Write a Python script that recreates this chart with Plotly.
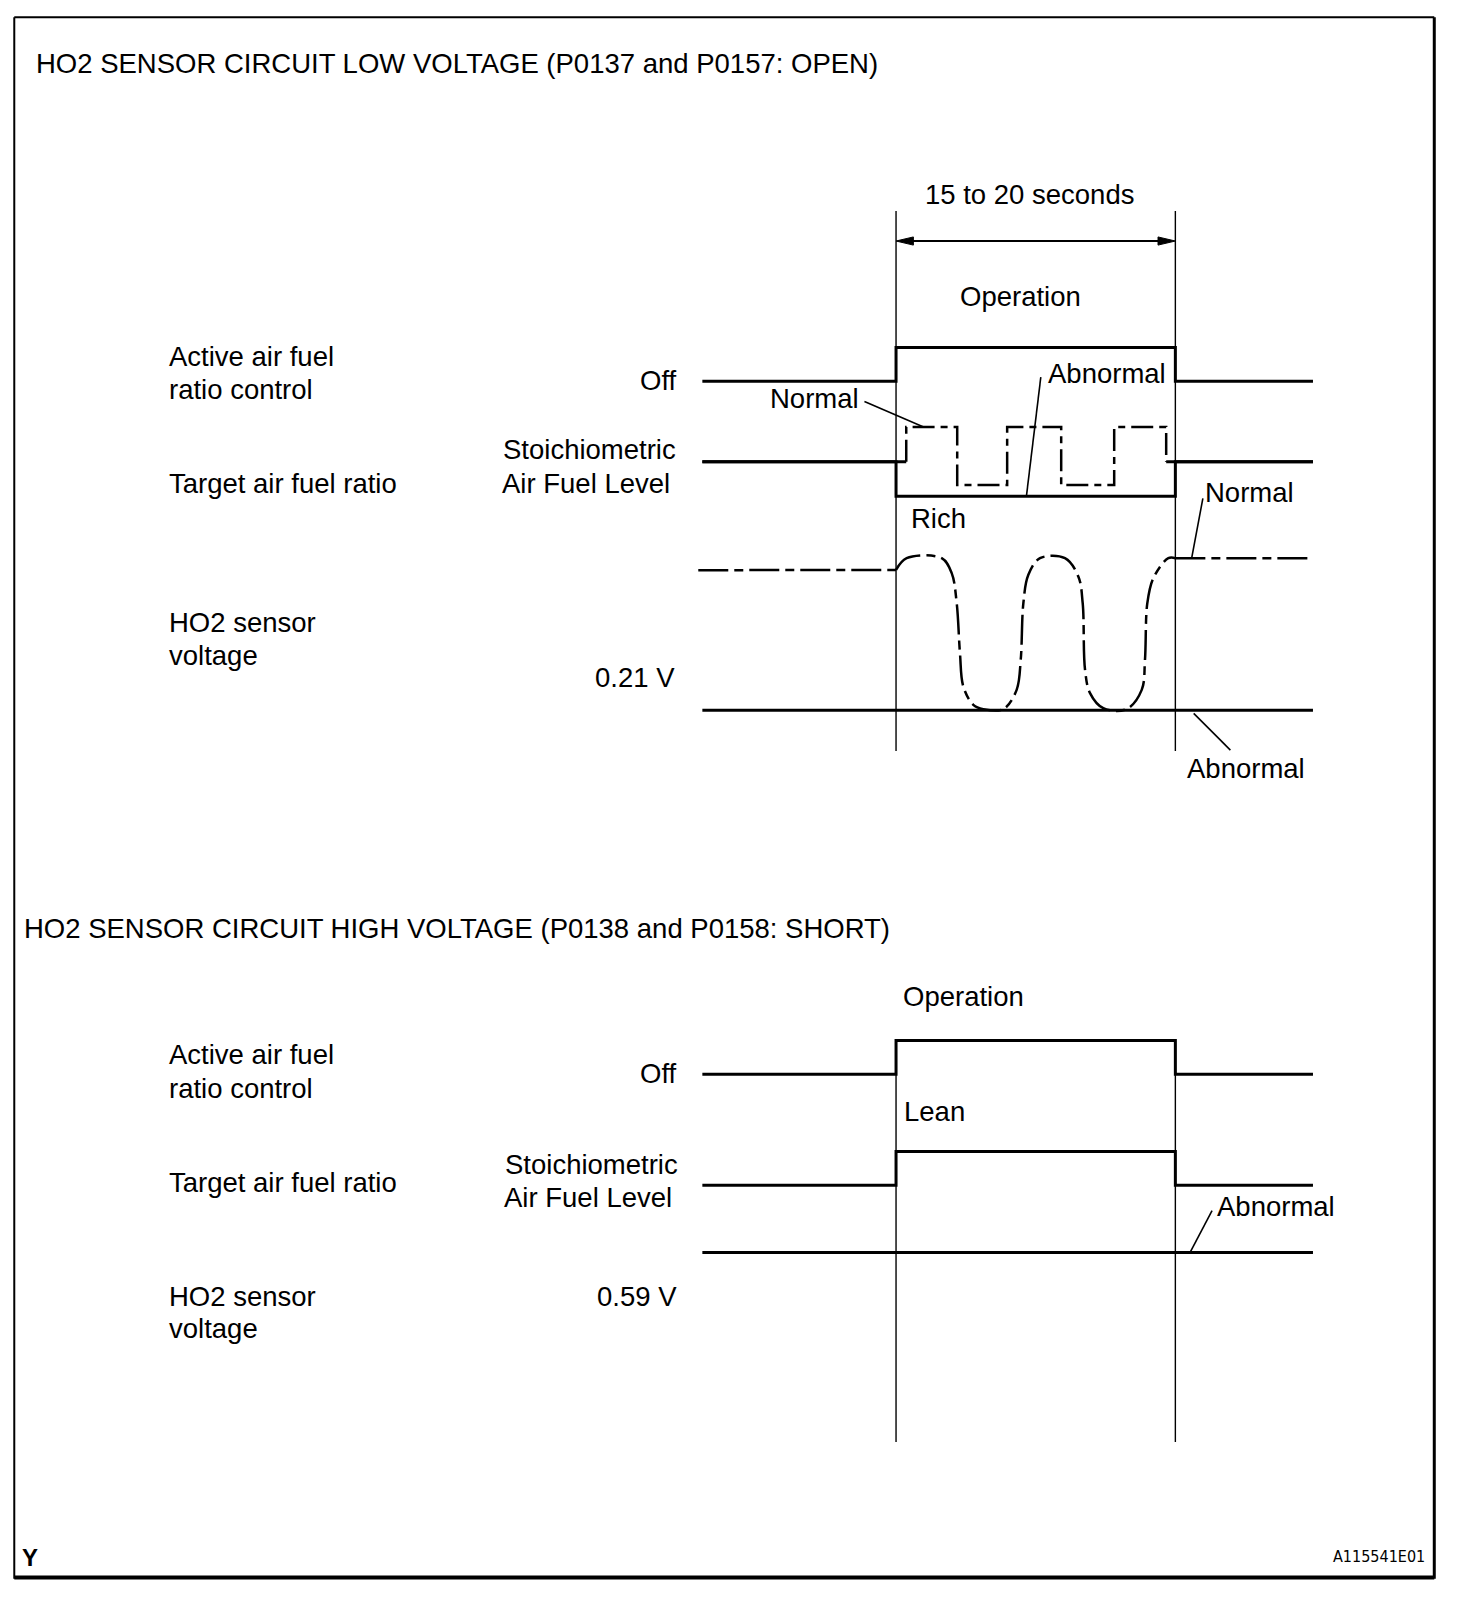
import plotly.graph_objects as go

# ---------------- data (diagram units: time along x, signal level along y) ----------------
# Top panel: HO2 SENSOR CIRCUIT LOW VOLTAGE (open)
T_STEP = [689, 879, 879, 1153, 1153, 1288]
ACTIVE_TOP = [374, 374, 341, 341, 374, 374]
TARGET_ABN_TOP = [453, 453, 487, 487, 453, 453]
TARGET_STOICH_L_T = [689, 889]
TARGET_STOICH_R_T = [1144, 1288]
TARGET_STOICH_Y = [453, 453]
TARGET_NORM_T = [889, 889, 939, 939, 988, 988, 1041, 1041, 1093, 1093, 1144, 1144]
TARGET_NORM = [453, 419, 419, 476, 476, 419, 419, 476, 476, 419, 419, 453]
HO2_NORM_L_T = [685, 879]
HO2_NORM_L = [559.5, 559.2]
HO2_NORM_T = [879, 889.4, 923.8, 933.6, 938.5, 941.7, 945, 954.8, 964.6, 984.3, 997.3,
              1001.3, 1003.9, 1008.8, 1020.2, 1044.7, 1057.8, 1062.1, 1064.4, 1069.3, 1082.3,
              1105.2, 1120, 1123.2, 1125.5, 1131.4, 1146.1, 1153]
HO2_NORM = [559.2, 547.7, 547.7, 562.4, 591.8, 640.9, 673.6, 691.6, 695.8, 695.8, 676.9,
            647.4, 591.8, 564, 547.7, 547.7, 565.7, 591.8, 657.2, 680.1, 694.9,
            695.8, 676.9, 647.4, 591.8, 567.3, 547.7, 547.7]
HO2_NORM_R_T = [1153, 1288]
HO2_NORM_R = [547.7, 547.7]
HO2_ABN_T = [689, 1288]
HO2_ABN_TOP = [697, 697]

# Bottom panel: HO2 SENSOR CIRCUIT HIGH VOLTAGE (short)
ACTIVE_BOT = [1054, 1054, 1021, 1021, 1054, 1054]
TARGET_BOT = [1163, 1163, 1130, 1130, 1163, 1163]
HO2_ABN_BOT = [1229, 1229]

OP_WINDOW = [879, 1153]

# ---------------- layout constants ----------------
PAGE_W, PAGE_H = 1472, 1598
BODY_MARGIN = 8
UX, UY = 1444 / 1472, 1568 / 1598
FONT = "Liberation Sans, Arial, Helvetica, sans-serif"
FS = 27.5
ANCHOR_SHIFT = {"left": -2, "right": 3, "center": 0}

fig = go.Figure()


def line(x, y, width=3, dash="solid", shape="linear"):
    fig.add_trace(go.Scatter(x=x, y=y, mode="lines",
                             line=dict(color="black", width=width, dash=dash, shape=shape),
                             hoverinfo="skip", showlegend=False))


# frame
line([14, 1407], [17, 17], width=2)
line([14, 14], [17, 1549], width=2)
line([1407, 1407], [17, 1549], width=3)
line([14, 1407], [1548, 1548], width=4)

# operation window verticals
for xv in OP_WINDOW:
    line([xv, xv], [207, 737], width=1.4)
    line([xv, xv], [1021, 1415], width=1.4)

# dimension arrow
line([OP_WINDOW[0] + 8, OP_WINDOW[1] - 8], [236.5, 236.5], width=2)
for tip, d in [(OP_WINDOW[0], 1), (OP_WINDOW[1], -1)]:
    fig.add_trace(go.Scatter(x=[tip, tip + d * 17, tip + d * 17, tip],
                             y=[236.5, 232.5, 240.5, 236.5], mode="lines", fill="toself",
                             fillcolor="black", line=dict(color="black", width=1),
                             hoverinfo="skip", showlegend=False))

# top panel waveforms
line(T_STEP, ACTIVE_TOP)
line(T_STEP, TARGET_ABN_TOP)
line(TARGET_STOICH_L_T, TARGET_STOICH_Y)
line(TARGET_STOICH_R_T, TARGET_STOICH_Y)
line(TARGET_NORM_T, TARGET_NORM, width=2.5, dash="22px,6px,7px,6px")
line(HO2_NORM_L_T, HO2_NORM_L, width=2.5, dash="30px,6px,9px,6px")
line(HO2_NORM_T, HO2_NORM, width=2.5, dash="30px,6px,9px,6px", shape="spline")
line(HO2_NORM_R_T, HO2_NORM_R, width=2.5, dash="30px,6px,9px,6px")
line(HO2_ABN_T, HO2_ABN_TOP)

# bottom panel waveforms
line(T_STEP, ACTIVE_BOT)
line(T_STEP, TARGET_BOT)
line(HO2_ABN_T, HO2_ABN_BOT)

# leader lines
for (x0, y0, x1, y1) in [(848, 394, 906, 419), (1021, 370, 1007, 486),
                         (1180, 489, 1169, 547.7), (1171, 700, 1207, 736),
                         (1168, 1228, 1189, 1188)]:
    line([x0, x1], [y0, y1], width=1.6)

texts = [
    ("HO2 SENSOR CIRCUIT LOW VOLTAGE (P0137 and P0157: OPEN)", 35, 62, "left"),
    ("15 to 20 seconds", 1010, 191, "center"),
    ("Operation", 1001, 291, "center"),
    ("Active air fuel", 166, 350, "left"),
    ("ratio control", 166, 382, "left"),
    ("Off", 663, 373, "right"),
    ("Normal", 799, 391, "center"),
    ("Abnormal", 1028, 366, "left"),
    ("Stoichiometric", 493, 441, "left"),
    ("Air Fuel Level", 492, 474, "left"),
    ("Target air fuel ratio", 166, 474, "left"),
    ("Rich", 894, 509, "left"),
    ("Normal", 1182, 483, "left"),
    ("HO2 sensor", 166, 611, "left"),
    ("voltage", 166, 643, "left"),
    ("0.21 V", 661, 665, "right"),
    ("Abnormal", 1164, 754, "left"),
    ("HO2 SENSOR CIRCUIT HIGH VOLTAGE (P0138 and P0158: SHORT)", 24, 911, "left"),
    ("Operation", 945, 978, "center"),
    ("Active air fuel", 166, 1035, "left"),
    ("ratio control", 166, 1068, "left"),
    ("Off", 663, 1053, "right"),
    ("Lean", 887, 1091, "left"),
    ("Stoichiometric", 495, 1143, "left"),
    ("Air Fuel Level", 494, 1175, "left"),
    ("Target air fuel ratio", 166, 1160, "left"),
    ("Abnormal", 1194, 1184, "left"),
    ("HO2 sensor", 166, 1272, "left"),
    ("voltage", 166, 1304, "left"),
    ("0.59 V", 663, 1272, "right"),
]
annotations = [dict(text=t, x=x + ANCHOR_SHIFT[a], y=y, xref="x", yref="y", xanchor=a,
                    yanchor="middle", showarrow=False,
                    font=dict(family=FONT, size=FS, color="black"))
               for (t, x, y, a) in texts]
annotations.append(dict(text="<b>Y</b>", x=20, y=1528, xref="x", yref="y", xanchor="left",
                        yanchor="middle", showarrow=False,
                        font=dict(family=FONT, size=24, color="black")))
annotations.append(dict(text="A115541E01", x=1400, y=1527, xref="x", yref="y", xanchor="right",
                        yanchor="middle", showarrow=False,
                        font=dict(family="Liberation Sans Narrow, DejaVu Sans Condensed, sans-serif",
                                  size=16, color="black")))

fig_w, fig_h = PAGE_W - BODY_MARGIN, PAGE_H - BODY_MARGIN
fig.update_layout(
    width=fig_w, height=fig_h,
    margin=dict(l=0, r=0, t=0, b=0),
    paper_bgcolor="white", plot_bgcolor="white",
    xaxis=dict(range=[BODY_MARGIN * UX, PAGE_W * UX], visible=False, fixedrange=True),
    yaxis=dict(range=[PAGE_H * UY, BODY_MARGIN * UY], visible=False, fixedrange=True),
    annotations=annotations,
    showlegend=False,
)

fig.write_html("out.html")
